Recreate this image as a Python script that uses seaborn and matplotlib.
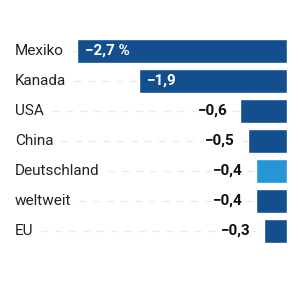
import matplotlib
matplotlib.use('Agg')
import matplotlib.pyplot as plt
import seaborn as sns
import pandas as pd

countries = ['Mexiko', 'Kanada', 'USA', 'China', 'Deutschland', 'weltweit', 'EU']
values = [-2.7, -1.9, -0.6, -0.5, -0.4, -0.4, -0.3]
value_labels = ['−2,7 %', '−1,9', '−0,6', '−0,5', '−0,4', '−0,4', '−0,3']
inside = [True, True, False, False, False, False, False]

DARK = '#134f8f'
LIGHT = '#2595d6'
colors = [LIGHT if c == 'Deutschland' else DARK for c in countries]

sns.set_style('white')
plt.rcParams['font.family'] = ['Roboto', 'DejaVu Sans']

df = pd.DataFrame({'land': countries, 'wert': values})

fig = plt.figure(figsize=(3, 3), dpi=100)
ax = fig.add_axes([0, 0, 1, 1])
sns.barplot(data=df, y='land', x='wert', hue='land', palette=colors,
            orient='h', width=0.8, legend=False, ax=ax, saturation=1)

ax.set_xlim(-3.69, 0.167)
ax.set_ylim(8.3, -1.7)
ax.axis('off')

fig.canvas.draw()
renderer = fig.canvas.get_renderer()
inv = ax.transData.inverted()
px = 1 / 77.8  # data units per pixel

for i, (name, v, lab, ins) in enumerate(zip(countries, values, value_labels, inside)):
    t = ax.text(-3.69 + 15 * px, i, name, ha='left', va='center',
                fontsize=11, color='#222222')
    bb = t.get_window_extent(renderer)
    x_end = inv.transform((bb.x1, 0))[0]
    if ins:
        ax.text(v + 8 * px, i, lab, ha='left', va='center', fontsize=11,
                fontweight='bold', color='white')
    else:
        ax.text(v - 13 * px, i, lab, ha='right', va='center', fontsize=11,
                fontweight='bold', color='#111111', zorder=4,
                bbox=dict(facecolor='white', edgecolor='none', pad=1))
    if v > x_end + 8 * px:
        ax.plot([x_end + 8 * px, v], [i, i], color='#ebebeb', lw=1,
                dashes=(5, 5), zorder=1)

fig.savefig('out.png', dpi=100)
